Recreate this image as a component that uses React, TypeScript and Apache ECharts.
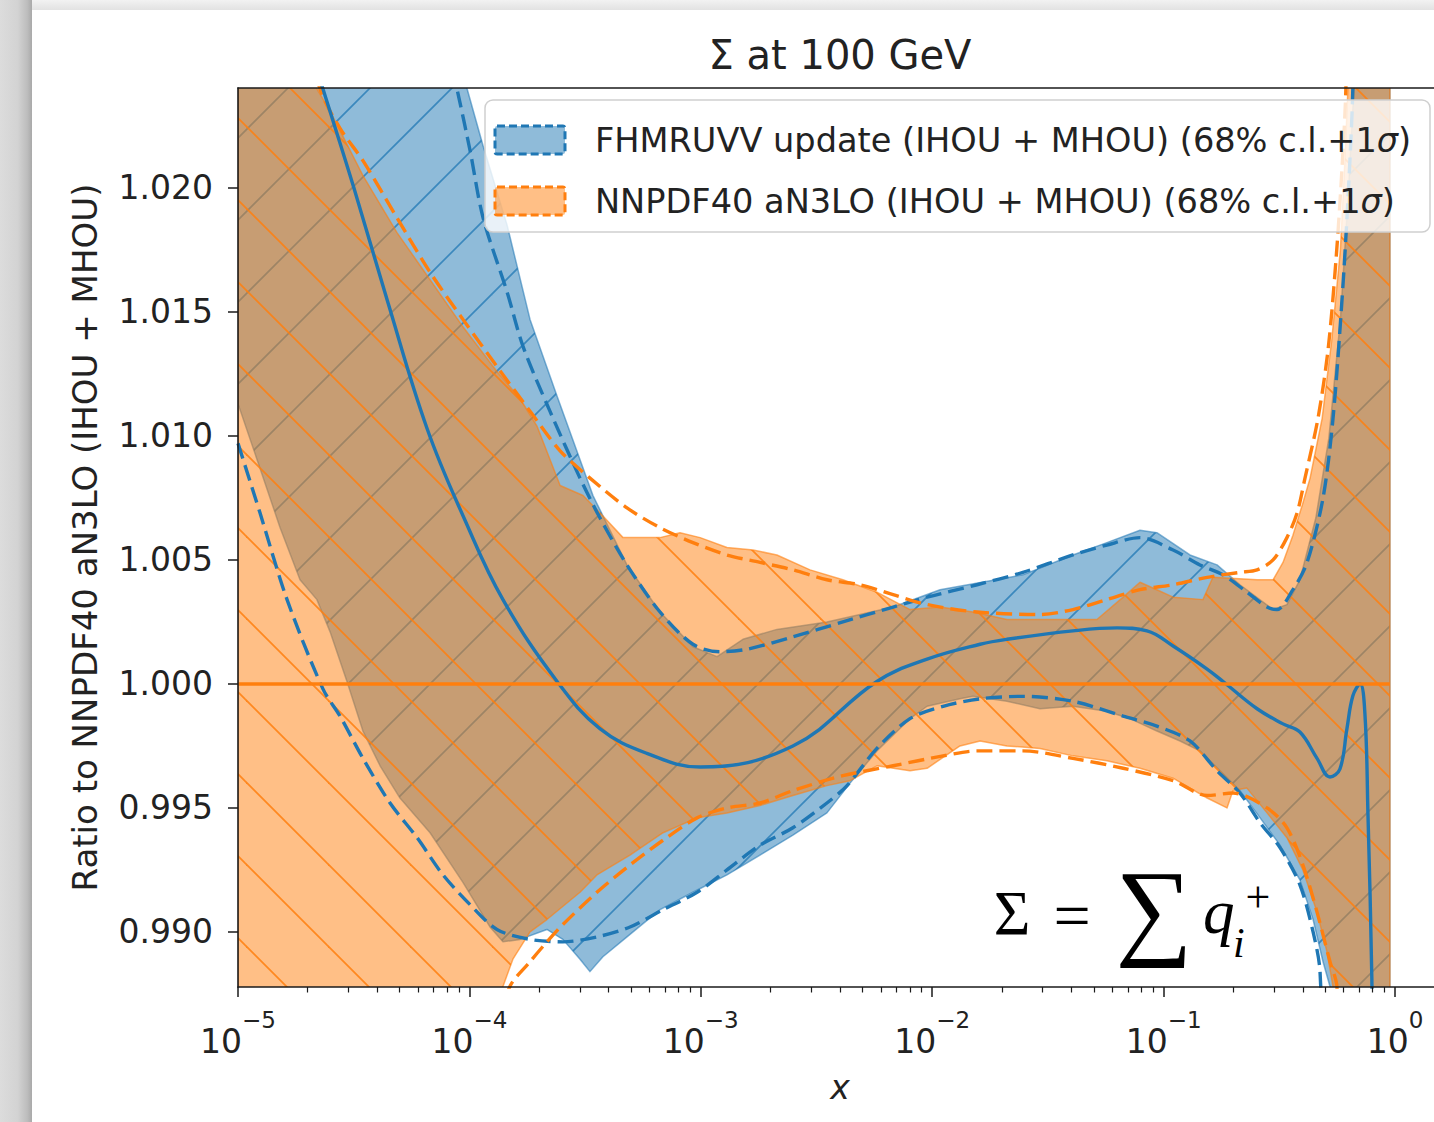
import React, { useEffect, useRef } from 'react';
import * as echarts from 'echarts';

// ---------- axis / tick data ----------
const xMajorExponents = [-5, -4, -3, -2, -1, 0];
const xMinorTicks: number[] = [];
for (let n = -5; n <= -1; n++) for (let k = 2; k <= 9; k++) xMinorTicks.push(n + Math.log10(k));
const yTickValues = [0.99, 0.995, 1.0, 1.005, 1.01, 1.015, 1.02];
const Y_MIN = 0.98778;
const Y_MAX = 1.02403;
const X_MIN = -5;
const X_MAX = 0.2031;

// ---------- series data: [log10(x), ratio] ----------
const fhmCentral = [
  [-5, 1.035], [-4.8, 1.029], [-4.633, 1.024], [-4.499, 1.02], [-4.356, 1.0155], [-4.183, 1.0103],
  [-4.019, 1.0066], [-3.855, 1.0034], [-3.621, 1.0001], [-3.436, 0.9982], [-3.233, 0.9972],
  [-3.003, 0.99665], [-2.602, 0.9975], [-2.239, 1.0001], [-2.022, 1.001], [-1.793, 1.0016],
  [-1.677, 1.0018], [-1.392, 1.00214], [-1.201, 1.00226], [-1.072, 1.00214], [-0.959, 1.00153],
  [-0.812, 1.0006], [-0.743, 1.0001], [-0.596, 0.999], [-0.484, 0.99839], [-0.411, 0.99806],
  [-0.337, 0.997], [-0.281, 0.99625], [-0.238, 0.99657], [-0.208, 0.99818], [-0.182, 0.99952],
  [-0.151, 1.0], [-0.13, 0.99879], [-0.117, 0.9948], [-0.1, 0.9881], [-0.08, 0.975], [-0.022, 0.95],
];
const fhmBandUp = [
  [-5, 1.07], [-4.5, 1.04], [-4.2, 1.03], [-4.01, 1.024], [-3.941, 1.0217], [-3.837, 1.0185],
  [-3.738, 1.0147], [-3.621, 1.0116], [-3.466, 1.0076], [-3.319, 1.0048], [-3.176, 1.0029],
  [-3.034, 1.0015], [-2.93, 1.0011], [-2.818, 1.0018], [-2.671, 1.0022], [-2.455, 1.0025],
  [-2.169, 1.0031], [-1.966, 1.0038], [-1.608, 1.0044], [-1.392, 1.0052], [-1.245, 1.0057],
  [-1.102, 1.0062], [-1.029, 1.0061], [-0.886, 1.0052], [-0.769, 1.0048], [-0.67, 1.004],
  [-0.527, 1.003], [-0.467, 1.0032], [-0.411, 1.0042], [-0.342, 1.0067], [-0.286, 1.0099],
  [-0.236, 1.0147], [-0.203, 1.0196], [-0.177, 1.0241], [-0.1, 1.05], [-0.022, 1.06],
];
const fhmBandLo = [
  [-5, 1.0113], [-4.905, 1.0087], [-4.818, 1.0063], [-4.732, 1.0042], [-4.659, 1.0034],
  [-4.602, 1.0021], [-4.529, 1.0001], [-4.46, 0.9981], [-4.386, 0.9967], [-4.3, 0.9954],
  [-4.17, 0.994], [-4.028, 0.992], [-3.911, 0.9902], [-3.855, 0.9896], [-3.781, 0.9897],
  [-3.665, 0.9901], [-3.596, 0.9897], [-3.522, 0.9889], [-3.479, 0.9884], [-3.423, 0.989],
  [-3.319, 0.9898], [-3.176, 0.9909], [-3.034, 0.9916], [-2.887, 0.9923], [-2.744, 0.9931],
  [-2.602, 0.9939], [-2.455, 0.9948], [-2.355, 0.996], [-2.239, 0.9973], [-2.096, 0.9986],
  [-2.022, 0.9991], [-1.88, 0.9994], [-1.824, 0.9995], [-1.677, 0.9993], [-1.534, 0.999],
  [-1.392, 0.9991], [-1.245, 0.9989], [-1.145, 0.9986], [-1.029, 0.9981], [-0.929, 0.9977],
  [-0.843, 0.9973], [-0.756, 0.9965], [-0.67, 0.9957], [-0.583, 0.9946], [-0.497, 0.9935],
  [-0.411, 0.9921], [-0.354, 0.9905], [-0.311, 0.9888], [-0.281, 0.9878], [-0.2, 0.97], [-0.022, 0.95],
];
const fhmSigmaUp = [
  [-5, 1.075], [-4.5, 1.042], [-4.2, 1.03], [-4.054, 1.024], [-3.997, 1.0215], [-3.941, 1.0188],
  [-3.837, 1.0158], [-3.768, 1.0136], [-3.652, 1.011], [-3.522, 1.0083], [-3.436, 1.0067],
  [-3.319, 1.0048], [-3.176, 1.0029], [-3.034, 1.0016], [-2.917, 1.0013], [-2.8, 1.0014],
  [-2.602, 1.0019], [-2.386, 1.0025], [-2.169, 1.0031], [-2.022, 1.0035], [-1.806, 1.004],
  [-1.608, 1.0045], [-1.392, 1.0052], [-1.245, 1.0056], [-1.102, 1.0059], [-0.959, 1.0054],
  [-0.843, 1.0048], [-0.743, 1.0044], [-0.64, 1.0037], [-0.553, 1.0031], [-0.51, 1.003],
  [-0.441, 1.0038], [-0.38, 1.0049], [-0.311, 1.0075], [-0.268, 1.0107], [-0.229, 1.0155],
  [-0.203, 1.0196], [-0.182, 1.0241], [-0.1, 1.06], [-0.022, 1.07],
];
const fhmSigmaLo = [
  [-5, 1.0097], [-4.905, 1.0069], [-4.788, 1.0034], [-4.633, 0.9998], [-4.559, 0.9987],
  [-4.46, 0.997], [-4.343, 0.9952], [-4.226, 0.9938], [-4.114, 0.9923], [-3.997, 0.9911],
  [-3.881, 0.9901], [-3.738, 0.9897], [-3.596, 0.9896], [-3.449, 0.9898], [-3.306, 0.9902],
  [-3.163, 0.9909], [-3.016, 0.9916], [-2.887, 0.9925], [-2.744, 0.9935], [-2.602, 0.9942],
  [-2.455, 0.9952], [-2.368, 0.9959], [-2.239, 0.9974], [-2.096, 0.9986], [-1.953, 0.9991],
  [-1.793, 0.9994], [-1.608, 0.9995], [-1.392, 0.9993], [-1.175, 0.9987], [-1.029, 0.9983],
  [-0.886, 0.9977], [-0.769, 0.9965], [-0.67, 0.9956], [-0.583, 0.9944], [-0.497, 0.9934],
  [-0.411, 0.9919], [-0.354, 0.99], [-0.324, 0.9884], [-0.25, 0.97], [-0.022, 0.95],
];
const nnCentral = [[-5, 1.0], [-0.022, 1.0]];
const nnBandUp = [
  [-5, 1.035], [-4.8, 1.029], [-4.659, 1.024], [-4.602, 1.0231], [-4.46, 1.0205], [-4.313, 1.0182],
  [-4.17, 1.0163], [-4.028, 1.0144], [-3.881, 1.0126], [-3.781, 1.0115], [-3.708, 1.0104],
  [-3.608, 1.008], [-3.509, 1.0076], [-3.436, 1.0069], [-3.336, 1.0059], [-3.176, 1.0059],
  [-3.09, 1.0061], [-3.003, 1.0059], [-2.887, 1.0055], [-2.774, 1.0054], [-2.671, 1.0052],
  [-2.528, 1.0046], [-2.386, 1.0042], [-2.239, 1.0037], [-2.096, 1.003], [-1.966, 1.0031],
  [-1.824, 1.0029], [-1.677, 1.0026], [-1.534, 1.0026], [-1.288, 1.0026], [-1.175, 1.0035],
  [-1.102, 1.0041], [-1.029, 1.0038], [-0.959, 1.0035], [-0.83, 1.0034], [-0.787, 1.0043],
  [-0.596, 1.0042], [-0.527, 1.0042], [-0.484, 1.0049], [-0.441, 1.006], [-0.398, 1.0073],
  [-0.367, 1.0083], [-0.315, 1.0107], [-0.273, 1.0139], [-0.236, 1.0175], [-0.216, 1.0212],
  [-0.203, 1.0241], [-0.15, 1.05], [-0.022, 1.07],
];
const nnBandLo = [
  [-5, 0.955], [-4.5, 0.968], [-4.2, 0.976], [-4.0, 0.983], [-3.855, 0.9878], [-3.812, 0.9889],
  [-3.738, 0.99], [-3.665, 0.9905], [-3.522, 0.9916], [-3.449, 0.9923], [-3.306, 0.9931],
  [-3.163, 0.994], [-3.016, 0.9946], [-2.887, 0.9948], [-2.744, 0.9951], [-2.602, 0.9955],
  [-2.455, 0.9959], [-2.355, 0.9961], [-2.239, 0.9967], [-2.096, 0.9965], [-2.022, 0.9966],
  [-1.88, 0.9975], [-1.793, 0.9977], [-1.677, 0.9975], [-1.534, 0.9974], [-1.392, 0.9971],
  [-1.245, 0.9969], [-1.102, 0.9966], [-0.959, 0.9962], [-0.812, 0.9954], [-0.726, 0.995],
  [-0.7, 0.9957], [-0.64, 0.9958], [-0.553, 0.9948], [-0.467, 0.9938], [-0.398, 0.9925],
  [-0.337, 0.9908], [-0.294, 0.9892], [-0.268, 0.9878], [-0.2, 0.97], [-0.022, 0.955],
];
const nnSigmaUp = [
  [-5, 1.036], [-4.8, 1.0295], [-4.646, 1.024], [-4.559, 1.0224], [-4.46, 1.0211], [-4.313, 1.0188],
  [-4.17, 1.0166], [-4.028, 1.0147], [-3.881, 1.0128], [-3.738, 1.011], [-3.608, 1.0094],
  [-3.479, 1.0083], [-3.319, 1.0071], [-3.176, 1.0063], [-3.034, 1.0057], [-2.887, 1.0052],
  [-2.744, 1.0049], [-2.602, 1.0046], [-2.455, 1.0042], [-2.312, 1.004], [-2.169, 1.0036],
  [-2.022, 1.0032], [-1.806, 1.0029], [-1.534, 1.0028], [-1.392, 1.003], [-1.245, 1.0034],
  [-1.102, 1.0038], [-0.959, 1.004], [-0.812, 1.0043], [-0.67, 1.0045], [-0.596, 1.0046],
  [-0.527, 1.005], [-0.467, 1.0059], [-0.423, 1.0069], [-0.389, 1.0083], [-0.333, 1.0107],
  [-0.289, 1.0135], [-0.255, 1.0171], [-0.229, 1.0208], [-0.212, 1.0241], [-0.15, 1.05], [-0.022, 1.07],
];
const nnSigmaLo = [
  [-5, 0.95], [-4.3, 0.972], [-4.0, 0.9815], [-3.9, 0.9855], [-3.825, 0.9878], [-3.738, 0.9888],
  [-3.665, 0.9896], [-3.596, 0.9903], [-3.449, 0.9916], [-3.306, 0.9927], [-3.163, 0.9937],
  [-3.016, 0.9946], [-2.887, 0.995], [-2.744, 0.9952], [-2.602, 0.9957], [-2.386, 0.9963],
  [-2.169, 0.9967], [-1.953, 0.9971], [-1.806, 0.9973], [-1.608, 0.9973], [-1.392, 0.997],
  [-1.175, 0.9966], [-0.959, 0.9961], [-0.812, 0.9955], [-0.7, 0.9956], [-0.553, 0.995],
  [-0.467, 0.9942], [-0.398, 0.9927], [-0.337, 0.9908], [-0.281, 0.9888], [-0.251, 0.9878],
  [-0.2, 0.975], [-0.022, 0.96],
];

const legendLabels = [
  'FHMRUVV update (IHOU + MHOU) (68% c.l.+1{i|σ})',
  'NNPDF40 aN3LO (IHOU + MHOU) (68% c.l.+1{i|σ})',
];

const BLUE = '#1f77b4';
const ORANGE = '#ff7f0e';
const FONT = 'DejaVu Sans';
const SERIF = 'Liberation Serif';
const HATCH = 82;

function hatchURL(dir: 'fwd' | 'back', color: string, phase: number, width: number) {
  const c = document.createElement('canvas');
  c.width = HATCH;
  c.height = HATCH;
  const g = c.getContext('2d')!;
  g.strokeStyle = color;
  g.lineWidth = width;
  const P = HATCH;
  for (let k = -3; k <= 3; k++) {
    g.beginPath();
    if (dir === 'back') {
      g.moveTo(-P, -P + phase + k * P);
      g.lineTo(2 * P, 2 * P + phase + k * P);
    } else {
      g.moveTo(-P, P + phase + k * P);
      g.lineTo(2 * P, -2 * P + phase + k * P);
    }
    g.stroke();
  }
  return c.toDataURL();
}

function bandSeries(name: string, up: number[][], lo: number[][], fill: string, stroke: string, hatch: any, z: number) {
  const pts = up.concat(lo.slice().reverse());
  return {
    type: 'custom',
    name,
    z,
    clip: true,
    silent: true,
    data: [[up[0][0], 1]],
    renderItem: (_p: any, api: any) => {
      const poly = pts.map((d) => api.coord(d));
      return {
        type: 'group',
        children: [
          { type: 'polygon', shape: { points: poly }, style: { fill, stroke, lineWidth: 1.5, lineJoin: 'round' } },
          { type: 'polygon', shape: { points: poly }, style: { fill: hatch, stroke: null } },
        ],
      };
    },
  };
}

function lineSeries(name: string, data: number[][], color: string, dashed: boolean, z: number) {
  return {
    type: 'line',
    name,
    data,
    z,
    silent: true,
    showSymbol: false,
    symbol: 'none',
    clip: true,
    smooth: dashed ? 0.3 : 0.4,
    lineStyle: { color, width: 3.4, type: dashed ? [16, 7] : 'solid', cap: 'butt', join: 'round' },
  };
}

export default function App() {
  const ref = useRef<HTMLDivElement>(null);
  useEffect(() => {
    const chart = echarts.init(ref.current!, null, { renderer: 'svg' });
    const blueHatch = {
      image: hatchURL('fwd', 'rgba(31,119,180,0.75)', 48, 1.7),
      repeat: 'repeat',
      imageWidth: HATCH,
      imageHeight: HATCH,
    };
    const orangeHatch = {
      image: hatchURL('back', 'rgba(255,127,14,0.85)', 44, 1.8),
      repeat: 'repeat',
      imageWidth: HATCH,
      imageHeight: HATCH,
    };
    const baseX = {
      type: 'value',
      min: X_MIN,
      max: X_MAX,
      gridIndex: 0,
      splitLine: { show: false },
    };
    const option: any = {
      animation: false,
      backgroundColor: '#ffffff',
      grid: { left: 238, top: 88, right: -8, bottom: 135, show: false, containLabel: false, outerBoundsMode: 'none' },
      xAxis: [
        {
          ...baseX,
          position: 'bottom',
          z: 10,
          name: 'x',
          nameLocation: 'middle',
          nameGap: 84,
          nameTextStyle: { fontFamily: FONT, fontSize: 33, fontStyle: 'italic', color: '#222' },
          axisLine: { show: true, onZero: false, lineStyle: { color: '#1a1a1a', width: 1.6 } },
          axisTick: { show: true, customValues: xMajorExponents, length: 10, lineStyle: { color: '#1a1a1a', width: 1.5 } },
          axisLabel: {
            show: true,
            customValues: xMajorExponents,
            margin: 21,
            formatter: (v: number) => `{b|10}{s|${v < 0 ? '\u2212' + Math.round(-v) : '0'}}`,
            rich: {
              b: { fontFamily: FONT, fontSize: 33, color: '#222', lineHeight: 50, verticalAlign: 'bottom' },
              s: { fontFamily: FONT, fontSize: 23, color: '#222', lineHeight: 23, verticalAlign: 'top' },
            },
          },
        },
        {
          ...baseX,
          position: 'bottom',
          z: 10,
          axisLine: { show: false, onZero: false },
          axisTick: { show: true, customValues: xMinorTicks, length: 5.5, lineStyle: { color: '#1a1a1a', width: 1.2 } },
          axisLabel: { show: false },
        },
        {
          ...baseX,
          position: 'top',
          z: 10,
          axisLine: { show: true, onZero: false, lineStyle: { color: '#1a1a1a', width: 1.6 } },
          axisTick: { show: false },
          axisLabel: { show: false },
        },
      ],
      yAxis: {
        type: 'value',
        min: Y_MIN,
        max: Y_MAX,
        z: 10,
        position: 'left',
        name: 'Ratio to NNPDF40 aN3LO (IHOU + MHOU)',
        nameLocation: 'middle',
        nameGap: 136,
        nameTextStyle: { fontFamily: FONT, fontSize: 34, color: '#222' },
        splitLine: { show: false },
        axisLine: { show: true, onZero: false, lineStyle: { color: '#1a1a1a', width: 1.6 } },
        axisTick: { show: true, customValues: yTickValues, length: 10, lineStyle: { color: '#1a1a1a', width: 1.5 } },
        axisLabel: {
          show: true,
          customValues: yTickValues,
          margin: 25,
          fontFamily: FONT,
          fontSize: 33,
          color: '#222',
          formatter: (v: number) => v.toFixed(3),
        },
      },
      series: [
        bandSeries('FHMRUVV band', fhmBandUp, fhmBandLo, 'rgba(31,119,180,0.5)', 'rgba(31,119,180,0.55)', blueHatch, 2),
        bandSeries('NNPDF band', nnBandUp, nnBandLo, 'rgba(255,127,14,0.5)', 'rgba(255,127,14,0.6)', orangeHatch, 3),
        lineSeries('FHMRUVV 1σ up', fhmSigmaUp, BLUE, true, 5),
        lineSeries('FHMRUVV 1σ down', fhmSigmaLo, BLUE, true, 5),
        lineSeries('NNPDF 1σ up', nnSigmaUp, ORANGE, true, 5),
        lineSeries('NNPDF 1σ down', nnSigmaLo, ORANGE, true, 5),
        lineSeries('FHMRUVV central', fhmCentral, BLUE, false, 6),
        lineSeries('NNPDF central', nnCentral, ORANGE, false, 6),
      ],
      graphic: [
        // window shadow
        {
          type: 'rect', z: 0, shape: { x: 0, y: 0, width: 32, height: 1122 },
          style: {
            fill: new echarts.graphic.LinearGradient(0, 0, 1, 0, [
              { offset: 0, color: '#dcdcdc' }, { offset: 0.55, color: '#d3d3d3' },
              { offset: 0.85, color: '#bdbdbd' }, { offset: 1, color: '#a9a9a9' },
            ]),
          },
        },
        {
          type: 'rect', z: 0, shape: { x: 32, y: 0, width: 1402, height: 10 },
          style: {
            fill: new echarts.graphic.LinearGradient(0, 0, 0, 1, [
              { offset: 0, color: '#f2f2f2' }, { offset: 1, color: '#e2e2e2' },
            ]),
          },
        },
        // title
        {
          type: 'text', z: 100, x: 840, y: 55,
          style: { text: 'Σ at 100 GeV', fontFamily: FONT, fontSize: 40, fill: '#222', align: 'center', verticalAlign: 'middle' },
        },
        // legend
        {
          type: 'rect', z: 100, shape: { x: 485, y: 100, width: 945, height: 132, r: 8 },
          style: { fill: 'rgba(255,255,255,0.8)', stroke: '#cfcfcf', lineWidth: 1.5 },
        },
        {
          type: 'rect', z: 101, shape: { x: 495, y: 126, width: 70, height: 28, r: 2 },
          style: { fill: 'rgba(31,119,180,0.5)', stroke: BLUE, lineWidth: 3, lineDash: [8, 4] },
        },
        {
          type: 'rect', z: 101, shape: { x: 495, y: 187, width: 70, height: 28, r: 2 },
          style: { fill: 'rgba(255,127,14,0.5)', stroke: ORANGE, lineWidth: 3, lineDash: [8, 4] },
        },
        ...legendLabels.map((t, i) => ({
          type: 'text', z: 101, x: 595, y: 140 + i * 61,
          style: {
            text: t, fontFamily: FONT, fontSize: 33.6, fill: '#222', verticalAlign: 'middle',
            rich: { i: { fontFamily: FONT, fontSize: 33.6, fontStyle: 'italic', fill: '#222' } },
          },
        })),
        // formula  Σ = ∑ q_i^+
        { type: 'text', z: 100, x: 1012, y: 914, style: { text: 'Σ', fontFamily: SERIF, fontSize: 63, fill: '#000', align: 'center', verticalAlign: 'middle' } },
        { type: 'text', z: 100, x: 1072, y: 915, style: { text: '=', fontFamily: SERIF, fontSize: 66, fill: '#000', align: 'center', verticalAlign: 'middle' } },
        { type: 'text', z: 100, x: 1154, y: 908, style: { text: '∑', fontFamily: SERIF, fontSize: 108, fill: '#000', align: 'center', verticalAlign: 'middle' } },
        { type: 'text', z: 100, x: 1203, y: 912, style: { text: 'q', fontFamily: SERIF, fontSize: 63, fontStyle: 'italic', fill: '#000', align: 'left', verticalAlign: 'middle' } },
        { type: 'text', z: 100, x: 1233, y: 943, style: { text: 'i', fontFamily: SERIF, fontSize: 42, fontStyle: 'italic', fill: '#000', align: 'left', verticalAlign: 'middle' } },
        { type: 'text', z: 100, x: 1258, y: 897, style: { text: '+', fontFamily: SERIF, fontSize: 44, fill: '#000', align: 'center', verticalAlign: 'middle' } },
      ],
    };
    chart.setOption(option);
    return () => chart.dispose();
  }, []);
  return <div ref={ref} style={{ position: 'absolute', left: 0, top: 0, width: 1434, height: 1122 }} />;
}
